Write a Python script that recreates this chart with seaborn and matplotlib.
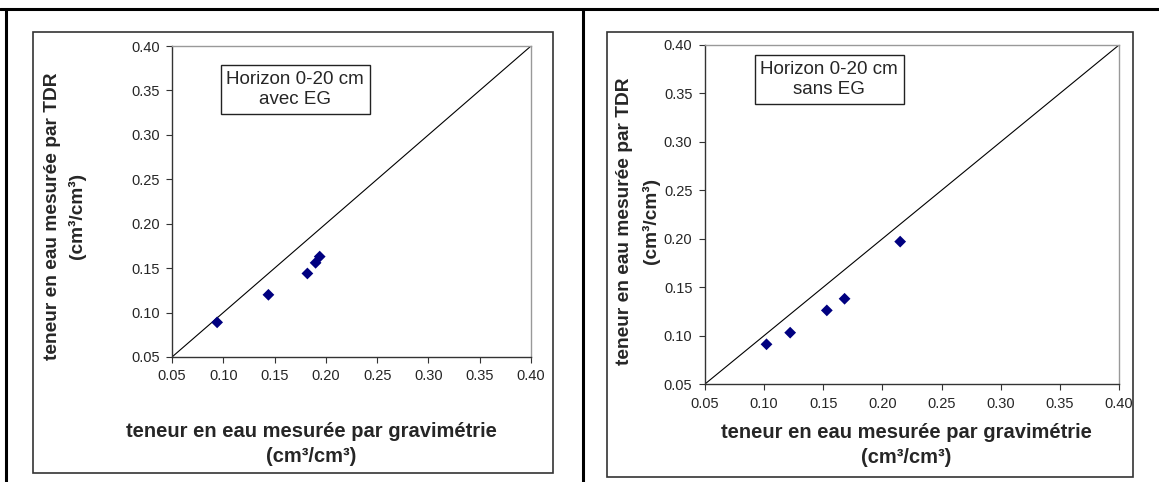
import matplotlib
matplotlib.use("Agg")
import matplotlib.pyplot as plt
import seaborn as sns
import pandas as pd
from matplotlib.lines import Line2D
from matplotlib.patches import Rectangle
from matplotlib.ticker import FormatStrFormatter, MultipleLocator

## Data (cm3/cm3)
grav_avec = [0.094, 0.144, 0.182, 0.190, 0.194]
tdr_avec = [0.089, 0.120, 0.144, 0.156, 0.163]

grav_sans = [0.102, 0.122, 0.153, 0.168, 0.215]
tdr_sans = [0.091, 0.103, 0.126, 0.138, 0.197]

labels_box = ["Horizon 0-20 cm\navec EG", "Horizon 0-20 cm\nsans EG"]
xlabel = "teneur en eau mesurée par gravimétrie\n(cm³/cm³)"
ylabel = "teneur en eau mesurée par TDR\n(cm³/cm³)"
lims = (0.05, 0.40)

sns.set_style("white")
plt.rcParams['font.family'] = ['Liberation Sans', 'DejaVu Sans']

W, H = 1159, 482
fig = plt.figure(figsize=(W / 100, H / 100), dpi=100)


def px(x0, y0, x1, y1):
    # pixel box (top-left origin) -> figure fraction rect
    return [x0 / W, 1 - y1 / H, (x1 - x0) / W, (y1 - y0) / H]


def draw_panel(rect, gx, ty, box_text, box_xy, xl_pos, yl_pos, yl_space):
    ax = fig.add_axes(rect)
    df = pd.DataFrame({'grav': gx, 'tdr': ty})
    ax.plot(lims, lims, color='black', lw=0.8, zorder=1)
    sns.scatterplot(data=df, x='grav', y='tdr', marker='D', s=36,
                    color='#000080', edgecolor='none', ax=ax, zorder=3)
    ax.set_xlim(*lims)
    ax.set_ylim(*lims)
    ax.xaxis.set_major_locator(MultipleLocator(0.05))
    ax.yaxis.set_major_locator(MultipleLocator(0.05))
    ax.xaxis.set_major_formatter(FormatStrFormatter('%.2f'))
    ax.yaxis.set_major_formatter(FormatStrFormatter('%.2f'))
    ax.tick_params(axis='both', direction='out', length=4, width=0.8,
                   labelsize=10.5, color='#333333', pad=5, bottom=True, left=True)
    for side in ['left', 'bottom']:
        ax.spines[side].set_color('#333333')
        ax.spines[side].set_linewidth(1.0)
    for side in ['top', 'right']:
        ax.spines[side].set_color('#999999')
        ax.spines[side].set_linewidth(1.0)
    ax.set_xlabel('')
    ax.set_ylabel('')
    ax.text(box_xy[0], box_xy[1], box_text, transform=ax.transAxes,
            ha='center', va='center', fontsize=13.5, linespacing=1.25,
            bbox=dict(boxstyle='square,pad=0.3', fc='white', ec='#222222', lw=1.0))
    fig.text(xl_pos[0] / W, 1 - xl_pos[1] / H, xlabel, ha='center', va='center',
             fontsize=14.5, fontweight='bold', linespacing=1.4)
    fig.text(yl_pos[0] / W, 1 - yl_pos[1] / H, ylabel, ha='center', va='center',
             rotation=90, fontsize=13.8, fontweight='bold', linespacing=yl_space)
    return ax


# chart frames
for x0, y0, x1, y1 in [(33, 32, 553, 473), (607, 32, 1133, 477)]:
    fig.add_artist(Rectangle((x0 / W, 1 - y1 / H), (x1 - x0) / W, (y1 - y0) / H,
                             transform=fig.transFigure, fill=False,
                             ec='#333333', lw=1.2))

ax1 = draw_panel(px(172, 46, 531, 357), grav_avec, tdr_avec, labels_box[0],
                 (0.343, 0.86), (311, 444), (65, 216), 1.55)
ax2 = draw_panel(px(705, 45, 1119, 384), grav_sans, tdr_sans, labels_box[1],
                 (0.30, 0.898), (906, 445), (638, 221), 1.7)

# table borders
for xs, ys in [((0, W), (9, 9)), ((6, 6), (9, H)), ((583, 583), (9, H))]:
    fig.add_artist(Line2D([x / W for x in xs], [1 - y / H for y in ys],
                          transform=fig.transFigure, color='black', lw=2.2))

fig.savefig('out.png', dpi=100)
